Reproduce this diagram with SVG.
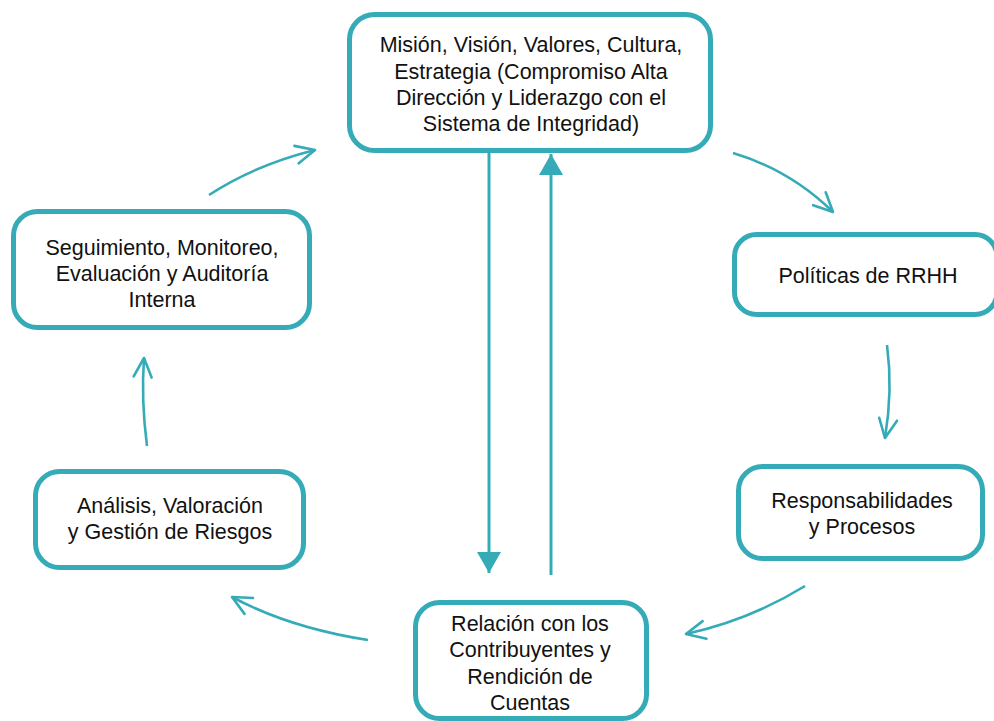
<svg xmlns="http://www.w3.org/2000/svg" width="994" height="721" viewBox="0 0 994 721">
<style>
.box{fill:#ffffff;stroke:#36abb8;stroke-width:5}
.t{font-family:"Liberation Sans",Arial,sans-serif;font-size:21.5px;fill:#111111;text-anchor:middle}
.c{fill:none;stroke:#36abb8;stroke-width:2.6}
.v{fill:none;stroke:#36abb8;stroke-width:3}
</style>
<defs>
<marker id="chev" markerUnits="userSpaceOnUse" viewBox="-24 -14 28 28" markerWidth="28" markerHeight="28" refX="0" refY="0" orient="auto">
<path d="M-19,-9 L0,0 L-19,9" fill="none" stroke="#36abb8" stroke-width="2.6" stroke-linecap="round" stroke-linejoin="round"/>
</marker>
<marker id="tri" markerUnits="userSpaceOnUse" viewBox="-24 -14 28 28" markerWidth="28" markerHeight="28" refX="0" refY="0" orient="auto">
<path d="M-21,-12 L0,0 L-21,12 Z" fill="#36abb8"/>
</marker>
</defs>
<rect width="994" height="721" fill="#ffffff"/>
<g id="connectors">
<path class="v" d="M489,153 L489,573" marker-end="url(#tri)"/>
<path class="v" d="M551,575 L551,154" marker-end="url(#tri)"/>
<path class="c" d="M733,153 Q790,170 833,212" marker-end="url(#chev)"/>
<path class="c" d="M887,345 Q893,390 885,438" marker-end="url(#chev)"/>
<path class="c" d="M805,586 Q750,620 686,634" marker-end="url(#chev)"/>
<path class="c" d="M368,640 Q290,628 232,597" marker-end="url(#chev)"/>
<path class="c" d="M147,446 Q141,400 144,358" marker-end="url(#chev)"/>
<path class="c" d="M209,195 Q255,165 315,150" marker-end="url(#chev)"/>
</g>
<g id="node-mision">
<rect class="box" x="349.5" y="14.5" width="361" height="136" rx="25"/>
<text class="t" x="531" y="52">Misión, Visión, Valores, Cultura,</text>
<text class="t" x="531" y="79">Estrategia (Compromiso Alta</text>
<text class="t" x="531" y="105">Dirección y Liderazgo con el</text>
<text class="t" x="531" y="131">Sistema de Integridad)</text>
</g>
<g id="node-politicas">
<rect class="box" x="734.5" y="234.5" width="262.5" height="80" rx="22"/>
<text class="t" x="868" y="283">Políticas de RRHH</text>
</g>
<g id="node-responsabilidades">
<rect class="box" x="738.5" y="466.5" width="244" height="92" rx="24"/>
<text class="t" x="862" y="508">Responsabilidades</text>
<text class="t" x="862" y="534">y Procesos</text>
</g>
<g id="node-relacion">
<rect class="box" x="415.5" y="602.5" width="231" height="116" rx="24"/>
<text class="t" x="530" y="631">Relación con los</text>
<text class="t" x="530" y="657">Contribuyentes y</text>
<text class="t" x="530" y="684">Rendición de</text>
<text class="t" x="530" y="710">Cuentas</text>
</g>
<g id="node-analisis">
<rect class="box" x="35.5" y="471.5" width="268" height="96" rx="24"/>
<text class="t" x="170" y="513">Análisis, Valoración</text>
<text class="t" x="170" y="539">y Gestión de Riesgos</text>
</g>
<g id="node-seguimiento">
<rect class="box" x="13.5" y="211.5" width="296" height="116" rx="24"/>
<text class="t" x="162" y="255">Seguimiento, Monitoreo,</text>
<text class="t" x="162" y="281">Evaluación y Auditoría</text>
<text class="t" x="162" y="307">Interna</text>
</g>
</svg>
